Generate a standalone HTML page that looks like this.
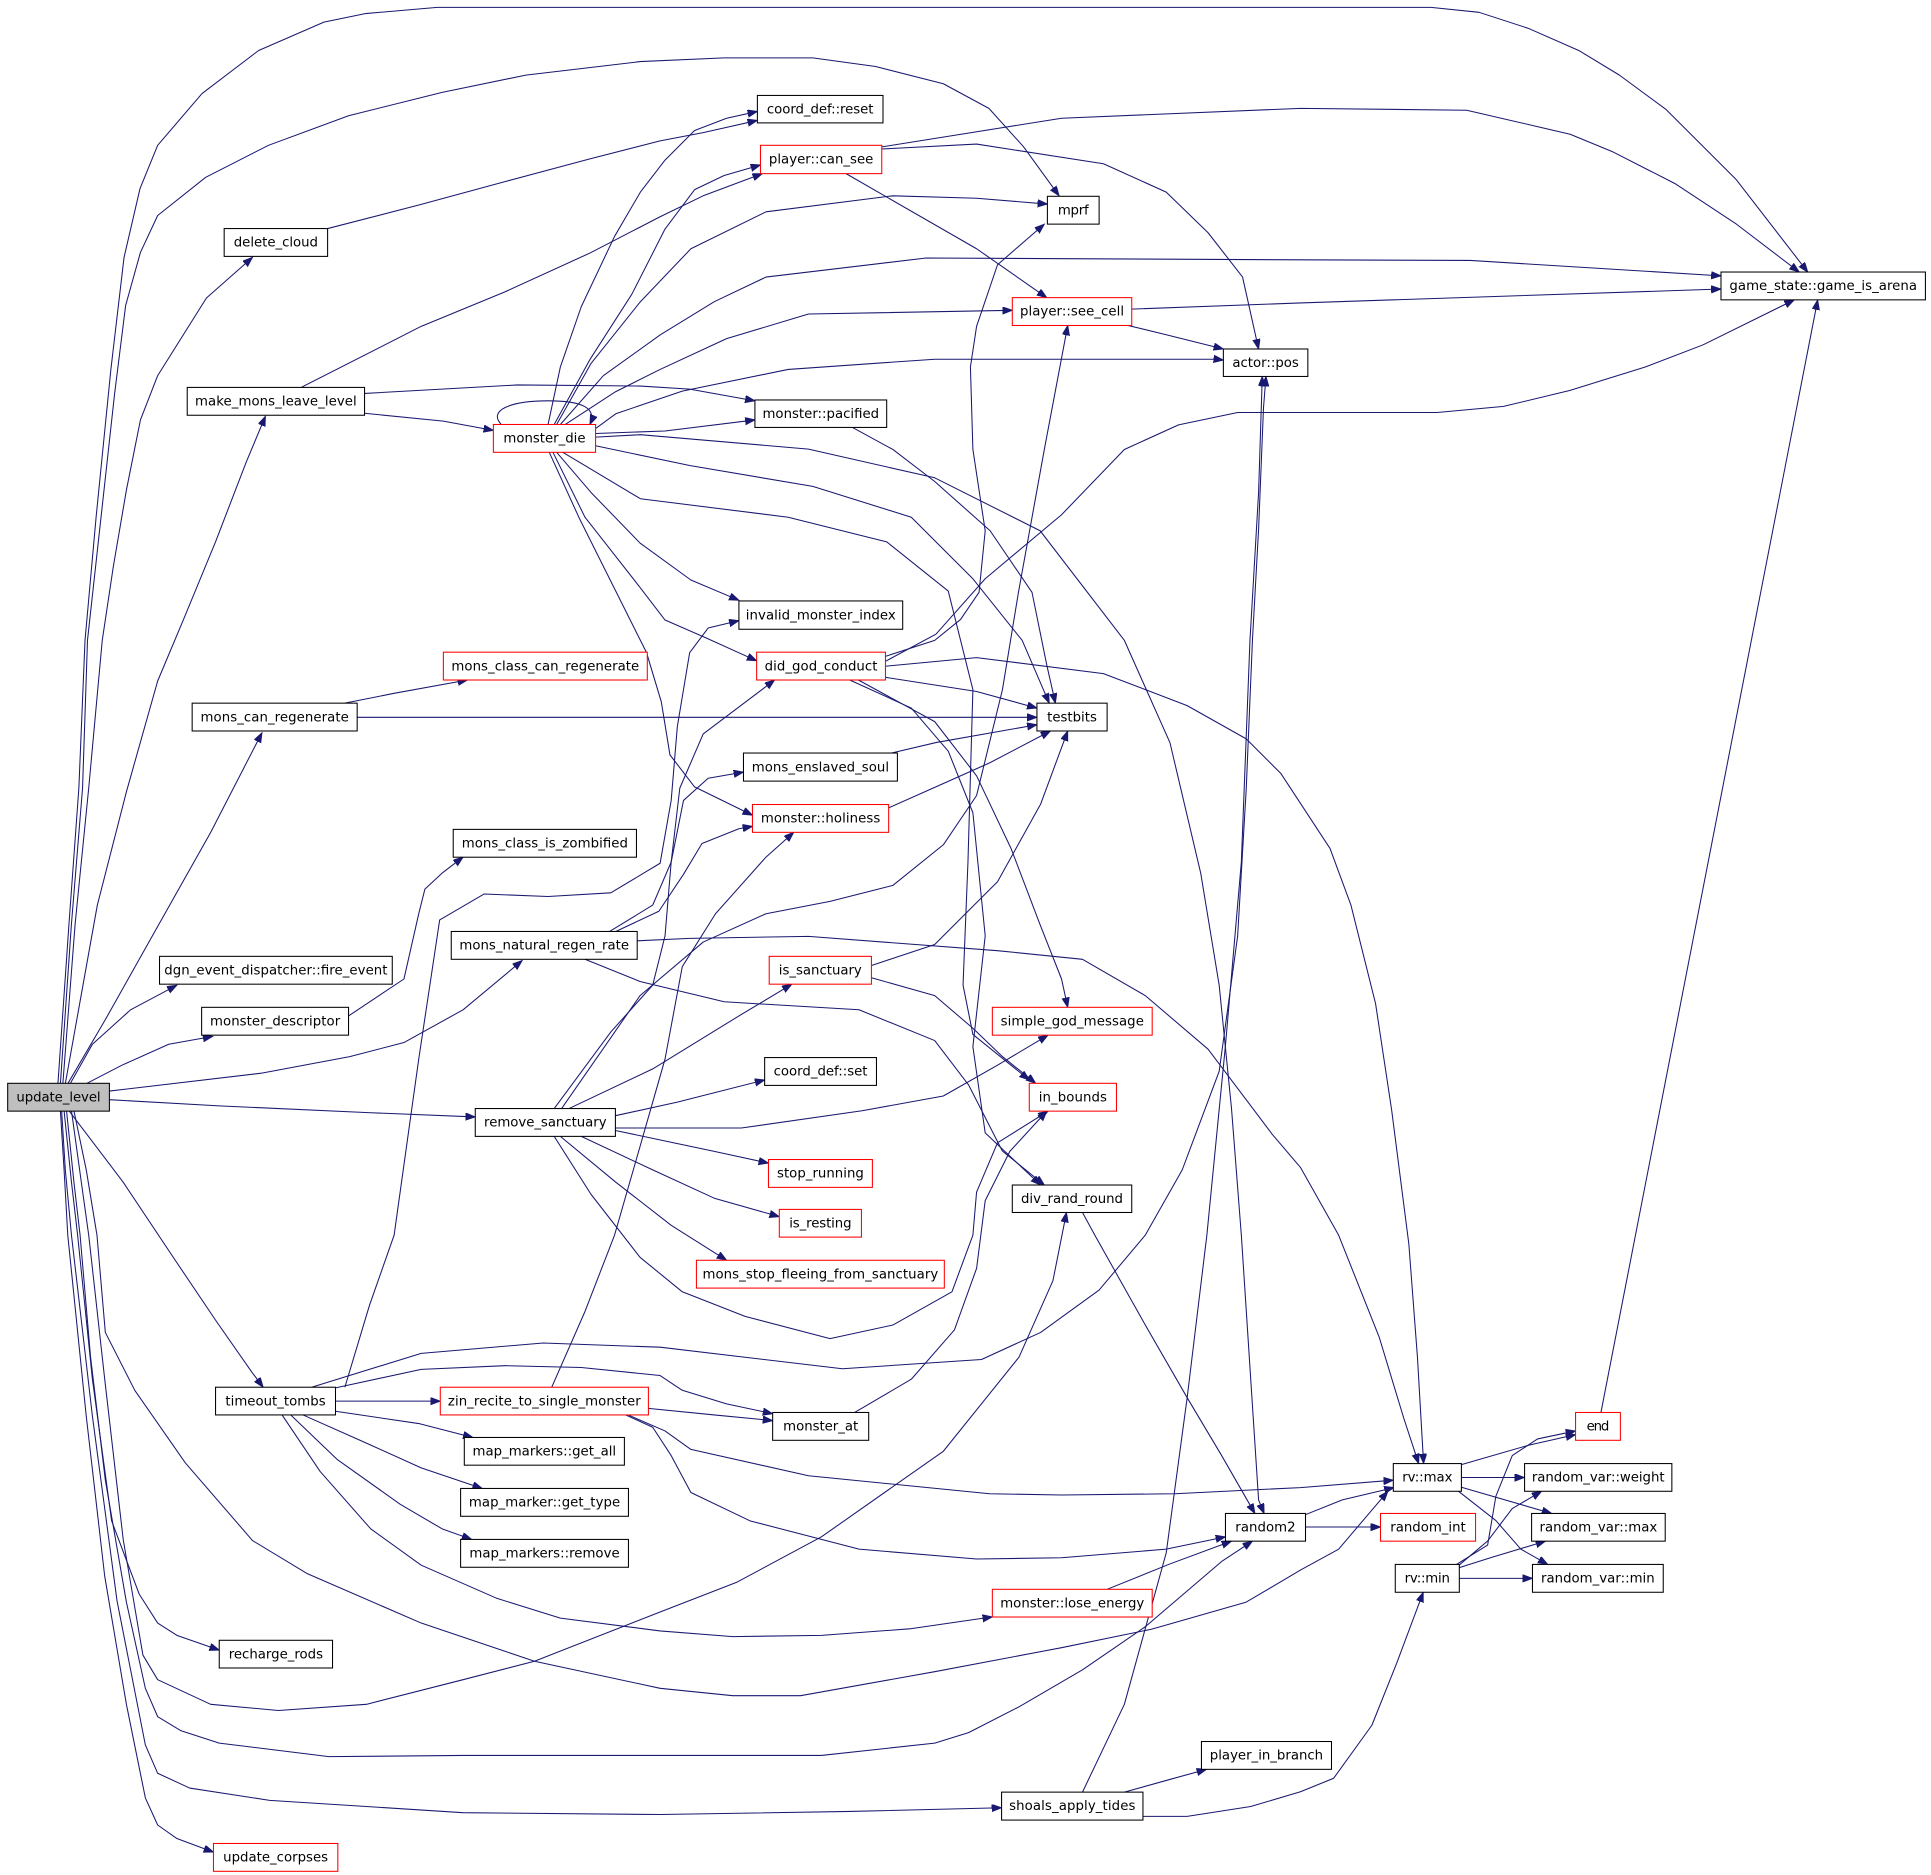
<!DOCTYPE html>
<html><head><meta charset="utf-8"><style>
html,body{margin:0;padding:0;background:#fff;}
svg{display:block;}
text{font-family:"DejaVu Sans","Liberation Sans",sans-serif;font-size:10.8px;fill:#000;}
polyline,path.e{fill:none;stroke:#191970;stroke-width:0.85;stroke-linejoin:round;marker-end:url(#a);}
rect{fill:#fff;stroke:#000;stroke-width:0.85;}
rect.r{stroke:#ff0000;}
</style></head><body>
<svg width="1931" height="1875" viewBox="0 0 1568 1522.6" xmlns="http://www.w3.org/2000/svg">
<defs><marker id="a" markerWidth="9" markerHeight="7" refX="8" refY="3" orient="auto" markerUnits="userSpaceOnUse"><path d="M0,0 L8,3 L0,6 z" fill="#191970" stroke="#191970" stroke-width="0.7"/></marker></defs>
<rect x="0" y="0" width="1568" height="1522.6" style="stroke:none;fill:#fff"/>
<g>
<polyline points="47,880 56,750 64,640 69,520 78,420 90,300 100.7,209 113.7,153 128,118 164,76 210,41 263,18 297,11 355,6 1162,6 1201,10 1241,23 1282,41 1315,61 1353,89 1410,146 1468,221"/>
<polyline points="49,880 58,750 67,640 71,520 82,420 93,320 102,248 114,205 128,175 167,144 218,118 283,94 359,75 427,61 520,50 588,47 660,47 711,54 766,68 803,88 831,119 860,159"/>
<polyline points="51,880 61,750 72,640 83,520 92,460 102.6,398 114,341 128,305 167.6,242 205,209"/>
<polyline points="53,880 79,735 102.6,643 128,553 149,503 175,440 200,375 215.5,338"/>
<polyline points="55,880 85.5,828 126.5,755 171,676 212.7,595"/>
<polyline points="57,880 75,848 106,820 143.6,800"/>
<polyline points="70,880 99,865 137,848 172.7,841.6"/>
<polyline points="88.8,886 212,871.5 284,858 328,846.6 376,820 424,780"/>
<polyline points="88.8,893 178,898 301,903.6 385.9,907"/>
<polyline points="56,902 100,960 142,1023 175,1072 205,1115 213.7,1126.5"/>
<polyline points="52,902 58,960 63,1003 75,1120 90.6,1235 113,1294.5 128,1318 143.6,1328 178,1340"/>
<polyline points="49,902 52,950 55,1003 70,1150 85,1280 102.6,1384 118,1460 128,1482 143.6,1493 173.3,1504"/>
<polyline points="50,902 53,950 58,1003 75,1150 95,1300 118,1417 128,1440 154,1452 219,1462 376,1472 536,1473.5 690,1471 813.3,1468"/>
<polyline points="54,902 60,960 65,1003 73.5,1102 85.5,1202 102.6,1301 118,1371 128,1394 147,1405.5 178,1415.5 267,1426.5 376,1425.5 536,1425.5 667,1425.5 759,1415.5 786.5,1407 827.5,1386 879,1356 930,1321 992,1268 1017,1251.5"/>
<polyline points="60,902 70,950 78.7,1003 85.5,1082 109.4,1129 150.5,1188 205,1251 249.7,1278 342,1318 434,1349 536,1371 595,1377 650,1377 759,1357.5 862,1338 935,1323 1012,1301 1056,1275 1087,1258 1127,1211"/>
<polyline points="58,902 66,960 72,1003 85,1120 100,1250 116,1344 128,1364 171,1384 226,1389 297.5,1384 376,1364 434,1349 536,1309 598,1285 667,1248 766,1178.5 827.5,1102 855,1040 866,984.6"/>
<polyline points="266,185.6 342,166 410,147.5 479,129 536,114.4 571,107.7 615,97.8"/>
<polyline points="244.5,314.6 342,265 410,237 479,205.5 536,176 571,159 619,141"/>
<polyline points="296,319.5 420,312.6 520,313.5 560,316 613,325.5"/>
<polyline points="296,335.6 360,342 400.6,349.5"/>
<path class="e" d="M407,344.7 C396,333 415,325.5 445,325.5 C472,325.5 485,331 479,344.7"/>
<polyline points="445,344.7 455,298 472,249 499,192 520,156 540,130 564,106 590,96 615,90.5"/>
<polyline points="450,344.7 479,292 513,239 540,186 564,154 588,142.5 617.5,134"/>
<polyline points="452,344.7 480,295 520,245 561,202 622,172 725,159 793,161 850.5,165.7"/>
<polyline points="455,344.7 490,305 536,272 580,245 622,225 752,209.5 1056,211 1194,211.5 1397.5,224"/>
<polyline points="459,344.7 500,318 536,300 590,275 656.5,255 822,252"/>
<polyline points="483.6,348 500,336 554,317.6 640,300 759,291.7 988,291.7 993.4,292.4"/>
<polyline points="483.6,352 540,350 613,341"/>
<polyline points="483.6,355 520,353 656.5,364.7 759,388 844.6,431 913,520 950,603 975,709 990,800 1000,900 1008,1003 1022,1218 1026.5,1229"/>
<polyline points="483.6,362 560,378 660,395 740,420 790,470 830,520 852,571"/>
<polyline points="692,347 725,365 759,391 804,431 838,481 850,540 857,571"/>
<polyline points="452,367.3 480,400 519.7,441 561,471 600,487.5"/>
<polyline points="449,367.3 475,420 519.7,477 540,503.5 571,517 614.4,536.6"/>
<polyline points="446,367.3 470,420 500,480 525,530 537,570 544,613 564,639 611,662"/>
<polyline points="457,367.3 520,405 640,420 720,440 770,480 790,560 786,700 782,800 790,840 835.8,877"/>
<polyline points="719,533 759,520 780,503 795,481 800,431 790,365 788,298 793,265 810,215 848,182"/>
<polyline points="719,537 760,515 800,470 862,418 913,365 957,345 1005,335 1167,335 1221,330 1275,317 1336,298 1383,280 1457,243.5"/>
<polyline points="719,541 793,534 896,547 964,573 1012,600 1040,628 1080,689 1097,735 1117,815 1130,901 1144,1010 1151,1102 1156,1188.5"/>
<polyline points="719,550 793,561.5 842,575"/>
<polyline points="697,552.2 759,586 793,630 821,689 845,752 862,795 867,818"/>
<polyline points="690,552.2 740,575 770,610 790,660 800,760 790,850 800,920 845,962.3"/>
<polyline points="280,571 320,563 379.6,552.2"/>
<polyline points="290,582.5 842,582.5"/>
<polyline points="724,611.5 760,603 842,588.5"/>
<polyline points="721.6,656 759,639.4 803.6,619.5 853,593.6"/>
<polyline points="707.7,784 759,767 810,716 845,653 867,593.6"/>
<polyline points="707.7,794 759,808.5 790,835 814,858 841,879.7"/>
<polyline points="462,900.2 530,868 600,825 643,799.2"/>
<polyline points="499.7,906 550,895 620.9,877"/>
<polyline points="499.7,916 602,916 700,902 766,890 810,865 851,840.6"/>
<polyline points="499.7,918 580,935 624,944.5"/>
<polyline points="472,922.8 530,950 580,973 632.8,988"/>
<polyline points="455,922.8 500,960 545,995 590,1023.4"/>
<polyline points="450,922.8 480,970 519.7,1021 554,1049 605,1069 674,1087 725,1076 773,1049 790,1003 793,968 810,928 851,902.3"/>
<polyline points="450,900.2 496,838 530,800 540,760 545,700 552,640 571,596 629,552.2"/>
<polyline points="456,900.2 519.7,808.5 571,765 622,742 674,732 725,719 766,686 793,646 814,560 827,481 848,365 867,264.3"/>
<polyline points="495,756.4 530,735 545,700 555,650 575,632 603.7,627"/>
<polyline points="500,756.4 535,740 555,710 570,685 600,673 611,671"/>
<polyline points="475,779 519.7,797 588,813.5 697.5,820 759,845 786.5,881 813.8,934.5 848,962.3"/>
<polyline points="517.4,764 560,762 656.5,760.4 810,772 879,779 930,808.5 981,852 1033,921 1056,948 1087,1003 1120,1086 1140,1152 1152,1188.5"/>
<polyline points="283,825 328,795 340,742 345,722 359,709 376,696"/>
<polyline points="280,1126.5 300,1060 320,1003 340,860 357,747 393,726 445,728 496,725 536,701 545,650 550,590 560,530 575,510 600,504"/>
<polyline points="448,1126.5 475,1065 499,1003 520,930 540,860 554,785 581,742 622,696 644.5,675.9"/>
<polyline points="272.4,1137.8 357.5,1137.8"/>
<polyline points="272.4,1146 340,1156 384,1167.3"/>
<polyline points="246,1149 300,1173 342,1192 391.6,1208.7"/>
<polyline points="236,1149 273.6,1185 325,1221.6 359,1241.5 383,1250.1"/>
<polyline points="229,1149 260,1195 301,1241.5 342,1271 403.6,1298 455,1314 536,1324.4 595,1329 667,1328 738.6,1322.7 805.8,1313"/>
<polyline points="272.4,1127 342,1112 410,1109 472,1110.5 536,1117 554,1129 590,1140 627.4,1148"/>
<polyline points="253,1126.5 342,1099 441,1090.6 536,1094 684,1111.5 797,1104 845,1082 892.5,1047.6 930,1003 960,950 990,870 1005,760 1012,640 1017,520 1022,430 1026,331 1028,305.7"/>
<polyline points="526.4,1143.7 580,1149 627.4,1153.6"/>
<polyline points="510,1149 540,1162 561,1177 656.5,1198.4 803.6,1213 862,1214 954,1213 1056,1208 1131.4,1202"/>
<polyline points="508,1149 530,1159 545,1182 561,1212 609,1235 697.5,1258 793,1266 862,1265 947,1258 995.1,1248"/>
<polyline points="694,1147 740,1120 775,1080 793,1030 800,975 820,935 850,902.3"/>
<polyline points="899,1290.6 950,1270 1000,1251.5"/>
<polyline points="879,1455.3 913,1384 947,1261 964,1135 980,1003 995,850 1008,700 1015,520 1022,400 1025,305.7"/>
<polyline points="913,1455.3 950,1445 979.7,1436.8"/>
<polyline points="928.1,1475 964,1475 1015.6,1467 1056,1455 1083,1444 1114,1401 1134,1351 1155.7,1293"/>
<polyline points="1060,1230 1090,1218 1132,1208"/>
<polyline points="1060,1240 1121,1240"/>
<polyline points="1186.7,1189.4 1241.6,1173.5 1279.4,1165"/>
<polyline points="1186.7,1199.8 1238,1199.8"/>
<polyline points="1186.7,1207.7 1260,1229"/>
<polyline points="1184.4,1211 1214.7,1234.8 1235,1258 1256.8,1270.4"/>
<polyline points="1182.7,1270.4 1208,1254.7 1214.7,1215 1228,1182 1248.5,1168.5 1279.4,1162"/>
<polyline points="1184.4,1271.3 1208,1251.4 1228,1225 1251.8,1211"/>
<polyline points="1185,1273 1211.3,1264.7 1255,1251.5"/>
<polyline points="1185,1281.7 1244.4,1281.7"/>
<polyline points="1300,1147 1476,243.6"/>
<polyline points="716,119.3 862,96 1056,88 1191,89.5 1275,109 1309,123 1360,149 1410,182 1461,220.9"/>
<polyline points="716,121 793,117 896,133 947,156 981,189 1009,225 1022,283.4"/>
<polyline points="687,141 793,202 850,241.7"/>
<polyline points="919,251 1056,246 1397.5,234.7"/>
<polyline points="916,264.3 947,271.8 993.4,283.4"/>
<polyline points="879,984.6 889,1003 930,1076 964,1135 992,1182 1019,1229"/>
</g>
<g>
<rect x="6.2" y="879.7" width="82.6" height="22.6" style="fill:#bfbfbf"/><text x="47.5" y="894.4" text-anchor="middle" textLength="68.4" lengthAdjust="spacing">update_level</text>
<rect x="182" y="185.6" width="84" height="22.6"/><text x="224" y="200.3" text-anchor="middle" textLength="68.4" lengthAdjust="spacing">delete_cloud</text>
<rect x="152" y="314.6" width="144" height="22.6"/><text x="224" y="329.3" text-anchor="middle" textLength="131.3" lengthAdjust="spacing">make_mons_leave_level</text>
<rect class="r" x="400.6" y="344.7" width="83" height="22.6"/><text x="442.1" y="359.4" text-anchor="middle" textLength="66.7" lengthAdjust="spacing">monster_die</text>
<rect x="615" y="77.5" width="102" height="22.3"/><text x="666" y="92.1" text-anchor="middle" textLength="86.5" lengthAdjust="spacing">coord_def::reset</text>
<rect class="r" x="617.5" y="118" width="98.5" height="23"/><text x="666.75" y="132.9" text-anchor="middle" textLength="84.8" lengthAdjust="spacing">player::can_see</text>
<rect x="850.5" y="159.4" width="42" height="22.6"/><text x="871.5" y="174.1" text-anchor="middle" textLength="25" lengthAdjust="spacing">mprf</text>
<rect x="1397.5" y="220.9" width="166" height="22.6"/><text x="1480.5" y="235.6" text-anchor="middle" textLength="152.3" lengthAdjust="spacing">game_state::game_is_arena</text>
<rect class="r" x="822" y="241.7" width="97" height="22.6"/><text x="870.5" y="256.4" text-anchor="middle" textLength="84.5" lengthAdjust="spacing">player::see_cell</text>
<rect x="993.4" y="283.4" width="68.6" height="22.3"/><text x="1027.7" y="297.9" text-anchor="middle" textLength="54" lengthAdjust="spacing">actor::pos</text>
<rect x="613" y="324.8" width="107" height="22.3"/><text x="666.5" y="339.4" text-anchor="middle" textLength="94.7" lengthAdjust="spacing">monster::pacified</text>
<rect x="600" y="488" width="133" height="23"/><text x="666.5" y="502.9" text-anchor="middle" textLength="121.8" lengthAdjust="spacing">invalid_monster_index</text>
<rect class="r" x="360" y="529.6" width="165.6" height="22.6"/><text x="442.8" y="544.3" text-anchor="middle" textLength="152.5" lengthAdjust="spacing">mons_class_can_regenerate</text>
<rect class="r" x="614.4" y="529.6" width="104.6" height="22.6"/><text x="666.7" y="544.3" text-anchor="middle" textLength="91.7" lengthAdjust="spacing">did_god_conduct</text>
<rect x="156" y="571" width="134" height="22.6"/><text x="223" y="585.7" text-anchor="middle" textLength="120.4" lengthAdjust="spacing">mons_can_regenerate</text>
<rect x="842" y="571" width="57" height="22.6"/><text x="870.5" y="585.7" text-anchor="middle" textLength="40.4" lengthAdjust="spacing">testbits</text>
<rect x="603.7" y="611.5" width="125" height="22.8"/><text x="666.2" y="626.3" text-anchor="middle" textLength="111.5" lengthAdjust="spacing">mons_enslaved_soul</text>
<rect class="r" x="611" y="653.3" width="110.6" height="22.6"/><text x="666.3" y="668" text-anchor="middle" textLength="97" lengthAdjust="spacing">monster::holiness</text>
<rect x="368" y="673.5" width="148.8" height="22.6"/><text x="442.4" y="688.2" text-anchor="middle" textLength="135" lengthAdjust="spacing">mons_class_is_zombified</text>
<rect x="366.4" y="756.4" width="151" height="22.6"/><text x="441.9" y="771.1" text-anchor="middle" textLength="137.8" lengthAdjust="spacing">mons_natural_regen_rate</text>
<rect x="129.5" y="776.6" width="189" height="22.6"/><text x="224" y="791.3" text-anchor="middle" textLength="181.3" lengthAdjust="spacing">dgn_event_dispatcher::fire_event</text>
<rect class="r" x="624.6" y="776.6" width="83" height="22.6"/><text x="666.1" y="791.3" text-anchor="middle" textLength="67.4" lengthAdjust="spacing">is_sanctuary</text>
<rect x="163.7" y="818" width="119.3" height="22.6"/><text x="223.35" y="832.7" text-anchor="middle" textLength="105.7" lengthAdjust="spacing">monster_descriptor</text>
<rect class="r" x="805.8" y="818" width="129.8" height="22.6"/><text x="870.7" y="832.7" text-anchor="middle" textLength="116.3" lengthAdjust="spacing">simple_god_message</text>
<rect x="620.9" y="858.8" width="90.8" height="22.6"/><text x="666.3" y="873.5" text-anchor="middle" textLength="76.3" lengthAdjust="spacing">coord_def::set</text>
<rect class="r" x="835.8" y="879.7" width="70.8" height="22.6"/><text x="871.2" y="894.4" text-anchor="middle" textLength="55.4" lengthAdjust="spacing">in_bounds</text>
<rect x="385.9" y="900.2" width="113.8" height="22.6"/><text x="442.8" y="914.9" text-anchor="middle" textLength="99.5" lengthAdjust="spacing">remove_sanctuary</text>
<rect class="r" x="624" y="941.6" width="84.4" height="22.6"/><text x="666.2" y="956.3" text-anchor="middle" textLength="70.5" lengthAdjust="spacing">stop_running</text>
<rect x="822" y="962.3" width="97" height="22.3"/><text x="870.5" y="976.9" text-anchor="middle" textLength="82.8" lengthAdjust="spacing">div_rand_round</text>
<rect class="r" x="632.8" y="982.1" width="66.7" height="22.5"/><text x="666.15" y="996.8" text-anchor="middle" textLength="50.6" lengthAdjust="spacing">is_resting</text>
<rect class="r" x="565.5" y="1023.4" width="201.3" height="22.6"/><text x="666.15" y="1038.1" text-anchor="middle" textLength="191.5" lengthAdjust="spacing">mons_stop_fleeing_from_sanctuary</text>
<rect x="175" y="1126.5" width="97.4" height="22.5"/><text x="223.7" y="1141.2" text-anchor="middle" textLength="81.4" lengthAdjust="spacing">timeout_tombs</text>
<rect class="r" x="357.5" y="1126.5" width="169" height="22.5"/><text x="442" y="1141.2" text-anchor="middle" textLength="156.6" lengthAdjust="spacing">zin_recite_to_single_monster</text>
<rect x="627.4" y="1147" width="78" height="22.6"/><text x="666.4" y="1161.7" text-anchor="middle" textLength="60.9" lengthAdjust="spacing">monster_at</text>
<rect class="r" x="1279.4" y="1147" width="36.4" height="22.6"/><text x="1297.6" y="1161.7" text-anchor="middle" textLength="18.5" lengthAdjust="spacing">end</text>
<rect x="377" y="1167.3" width="130" height="22.5"/><text x="442" y="1182" text-anchor="middle" textLength="116.6" lengthAdjust="spacing">map_markers::get_all</text>
<rect x="1131.4" y="1188.5" width="55.3" height="22.5"/><text x="1159.05" y="1203.2" text-anchor="middle" textLength="40.8" lengthAdjust="spacing">rv::max</text>
<rect x="1238" y="1188.5" width="119.6" height="22.5"/><text x="1297.8" y="1203.2" text-anchor="middle" textLength="107.8" lengthAdjust="spacing">random_var::weight</text>
<rect x="374" y="1208.7" width="136.3" height="22.6"/><text x="442.15" y="1223.4" text-anchor="middle" textLength="122.8" lengthAdjust="spacing">map_marker::get_type</text>
<rect x="995.1" y="1229" width="65" height="22.5"/><text x="1027.6" y="1243.7" text-anchor="middle" textLength="49" lengthAdjust="spacing">random2</text>
<rect class="r" x="1121" y="1229" width="77.2" height="22.5"/><text x="1159.6" y="1243.7" text-anchor="middle" textLength="61.3" lengthAdjust="spacing">random_int</text>
<rect x="1243.7" y="1229" width="108.5" height="22.5"/><text x="1297.95" y="1243.7" text-anchor="middle" textLength="95.7" lengthAdjust="spacing">random_var::max</text>
<rect x="374" y="1250.1" width="136.3" height="22.6"/><text x="442.15" y="1264.8" text-anchor="middle" textLength="122" lengthAdjust="spacing">map_markers::remove</text>
<rect x="1133" y="1270.4" width="52" height="22.6"/><text x="1159" y="1285.1" text-anchor="middle" textLength="36.7" lengthAdjust="spacing">rv::min</text>
<rect x="1244.4" y="1270.4" width="106.2" height="22.6"/><text x="1297.5" y="1285.1" text-anchor="middle" textLength="92.3" lengthAdjust="spacing">random_var::min</text>
<rect class="r" x="805.8" y="1290.6" width="129.8" height="22.5"/><text x="870.7" y="1305.3" text-anchor="middle" textLength="117" lengthAdjust="spacing">monster::lose_energy</text>
<rect x="178" y="1332" width="92" height="22.5"/><text x="224" y="1346.7" text-anchor="middle" textLength="76.6" lengthAdjust="spacing">recharge_rods</text>
<rect x="975.6" y="1414.2" width="105.6" height="22.6"/><text x="1028.4" y="1428.9" text-anchor="middle" textLength="92" lengthAdjust="spacing">player_in_branch</text>
<rect x="813.3" y="1455.3" width="114.8" height="22.7"/><text x="870.7" y="1470" text-anchor="middle" textLength="102.6" lengthAdjust="spacing">shoals_apply_tides</text>
<rect class="r" x="173.3" y="1497" width="101" height="22.6"/><text x="223.8" y="1511.7" text-anchor="middle" textLength="85.2" lengthAdjust="spacing">update_corpses</text>
</g>
</svg>
</body></html>
